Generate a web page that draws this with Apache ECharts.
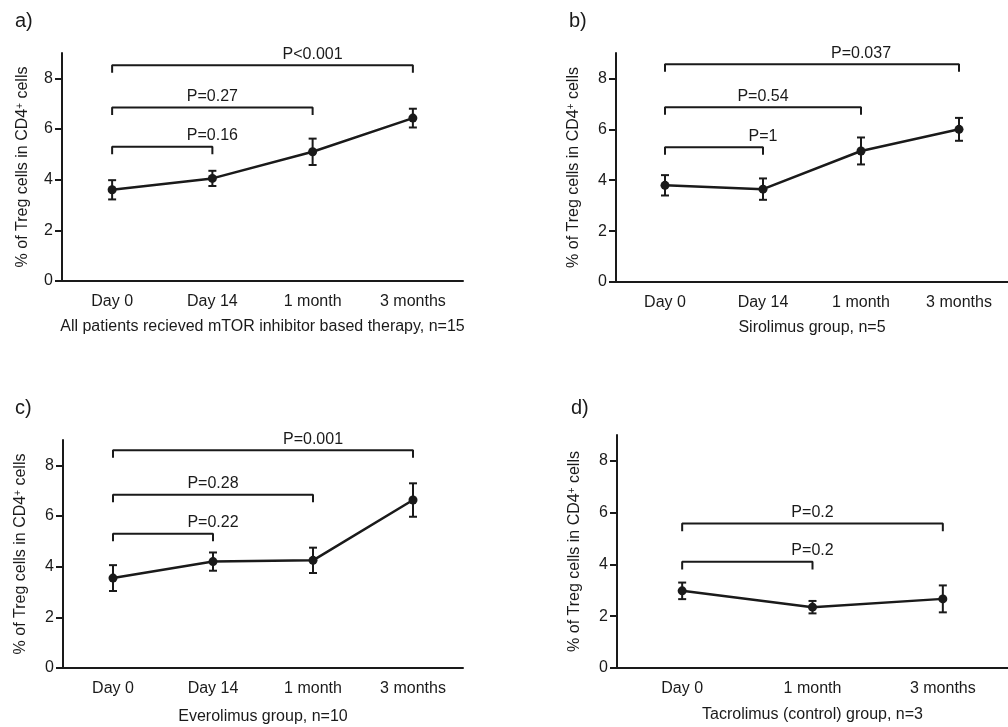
<!DOCTYPE html>
<html>
<head>
<meta charset="utf-8">
<script src="https://cdn.jsdelivr.net/npm/echarts@6/dist/echarts.min.js"></script>
<style>
  html, body { margin: 0; padding: 0; background: #fff; }
  #main { width: 1008px; height: 727px; }
</style>
</head>
<body>
<div id="main"></div>
<script>
// categories
var catsABC = ['Day 0', 'Day 14', '1 month', '3 months'];
var catsD = ['Day 0', '1 month', '3 months'];

// means and error bars (% Treg in CD4+)
var meanA = [3.6, 4.05, 5.1, 6.43];
var errA = [0.38, 0.3, 0.52, 0.37];
var meanB = [3.8, 3.65, 5.15, 6.0];
var errB = [0.4, 0.42, 0.53, 0.45];
var meanC = [3.55, 4.2, 4.25, 6.63];
var errC = [0.51, 0.36, 0.5, 0.66];
var meanD = [2.98, 2.35, 2.67];
var errD = [0.32, 0.24, 0.52];

// significance brackets: all start at Day 0
var pTextA = ['P=0.16', 'P=0.27', 'P<0.001'];
var pToA = [1, 2, 3];
var pLevelA = [5.3, 6.85, 8.52];
var pTextB = ['P=1', 'P=0.54', 'P=0.037'];
var pToB = [1, 2, 3];
var pLevelB = [5.3, 6.87, 8.56];
var pTextC = ['P=0.22', 'P=0.28', 'P=0.001'];
var pToC = [1, 2, 3];
var pLevelC = [5.3, 6.84, 8.6];
var pTextD = ['P=0.2', 'P=0.2'];
var pToD = [1, 2];
var pLevelD = [4.1, 5.58];

var yTicks = [0, 2, 4, 6, 8];
var xTitles = [
    'All patients recieved mTOR inhibitor based therapy, n=15',
    'Sirolimus group, n=5',
    'Everolimus group, n=10',
    'Tacrolimus (control) group, n=3'
];

var ink = '#1a1a1a';
var font = '"Liberation Sans", Arial, Helvetica, sans-serif';

var panels = [
    { cats: catsABC, mean: meanA, err: errA, pText: pTextA, pTo: pToA, pLevel: pLevelA, grid: { left: 62, top: 53, width: 401, height: 228 }, nameGap: 38, yGap: 31 },
    { cats: catsABC, mean: meanB, err: errB, pText: pTextB, pTo: pToB, pLevel: pLevelB, grid: { left: 616, top: 53, width: 403, height: 229 }, nameGap: 38, yGap: 34 },
    { cats: catsABC, mean: meanC, err: errC, pText: pTextC, pTo: pToC, pLevel: pLevelC, grid: { left: 63, top: 440, width: 400, height: 228 }, nameGap: 41, yGap: 34 },
    { cats: catsD, mean: meanD, err: errD, pText: pTextD, pTo: pToD, pLevel: pLevelD, grid: { left: 617, top: 435, width: 402, height: 233 }, nameGap: 39, yGap: 34 }
];

var grids = [], xAxes = [], yAxes = [], series = [];

panels.forEach(function (p, i) {
    grids.push(p.grid);
    xAxes.push({
        type: 'category',
        gridIndex: i,
        data: p.cats,
        boundaryGap: true,
        name: xTitles[i],
        nameLocation: 'middle',
        nameGap: p.nameGap,
        nameMoveOverlap: false,
        nameTextStyle: { color: ink, fontSize: 16, fontFamily: font, verticalAlign: 'top' },
        axisLine: { lineStyle: { color: ink, width: 2 } },
        axisTick: { alignWithLabel: true, length: 7, lineStyle: { color: ink, width: 2 } },
        axisLabel: { color: ink, fontSize: 16, fontFamily: font, margin: 13, interval: 0 },
        splitLine: { show: false }
    });
    yAxes.push({
        type: 'value',
        gridIndex: i,
        min: 0,
        max: 9,
        interval: 2,
        name: '% of Treg cells in CD4{sup|+} cells',
        nameLocation: 'middle',
        nameRotate: 90,
        nameGap: p.yGap,
        nameMoveOverlap: false,
        nameTextStyle: {
            color: ink, fontSize: 16, fontFamily: font,
            rich: { sup: { fontSize: 10, verticalAlign: 'top', color: ink, fontFamily: font } }
        },
        axisLine: { show: true, lineStyle: { color: ink, width: 2 } },
        axisTick: { show: true, inside: false, length: 7, customValues: yTicks, lineStyle: { color: ink, width: 2 } },
        axisLabel: { color: ink, fontSize: 16, fontFamily: font, margin: 9, customValues: yTicks },
        splitLine: { show: false }
    });

    // error bars
    series.push({
        type: 'custom',
        xAxisIndex: i,
        yAxisIndex: i,
        z: 3,
        data: p.mean.map(function (m, k) { return [k, m - p.err[k], m + p.err[k]]; }),
        renderItem: function (params, api) {
            var lo = api.coord([api.value(0), api.value(1)]);
            var hi = api.coord([api.value(0), api.value(2)]);
            var w = 4;
            var st = { stroke: ink, lineWidth: 2 };
            return {
                type: 'group',
                children: [
                    { type: 'line', shape: { x1: lo[0], y1: lo[1], x2: hi[0], y2: hi[1] }, style: st },
                    { type: 'line', shape: { x1: lo[0] - w, y1: lo[1], x2: lo[0] + w, y2: lo[1] }, style: st },
                    { type: 'line', shape: { x1: hi[0] - w, y1: hi[1], x2: hi[0] + w, y2: hi[1] }, style: st }
                ]
            };
        }
    });

    // mean line
    series.push({
        type: 'line',
        xAxisIndex: i,
        yAxisIndex: i,
        z: 4,
        data: p.mean,
        symbol: 'circle',
        symbolSize: 9,
        itemStyle: { color: ink },
        lineStyle: { color: ink, width: 2.5 }
    });

    // brackets
    p.pText.forEach(function (txt, k) {
        var lvl = p.pLevel[k], to = p.pTo[k], drop = 0.3;
        series.push({
            type: 'line',
            xAxisIndex: i,
            yAxisIndex: i,
            symbol: 'none',
            clip: false,
            lineStyle: { color: ink, width: 2 },
            data: [[0, lvl - drop], [0, lvl], [to, lvl], [to, lvl - drop]]
        });
        series.push({
            type: 'scatter',
            xAxisIndex: i,
            yAxisIndex: i,
            symbolSize: 0,
            clip: false,
            itemStyle: { color: ink, opacity: 1 },
            label: {
                show: true,
                position: 'top',
                distance: 3,
                color: ink,
                opacity: 1,
                fontSize: 16,
                fontFamily: font,
                formatter: function () { return txt; }
            },
            data: [[to / 2, lvl]]
        });
    });
});

var chart = echarts.init(document.getElementById('main'));
chart.setOption({
    animation: false,
    backgroundColor: '#fff',
    title: [
        { text: 'a)', left: 10, top: 6 },
        { text: 'b)', left: 564, top: 6 },
        { text: 'c)', left: 10, top: 393 },
        { text: 'd)', left: 566, top: 393 }
    ].map(function (t) {
        t.textStyle = { color: ink, fontSize: 20, fontWeight: 'normal', fontFamily: font };
        return t;
    }),
    grid: grids,
    xAxis: xAxes,
    yAxis: yAxes,
    series: series
});
</script>
</body>
</html>
